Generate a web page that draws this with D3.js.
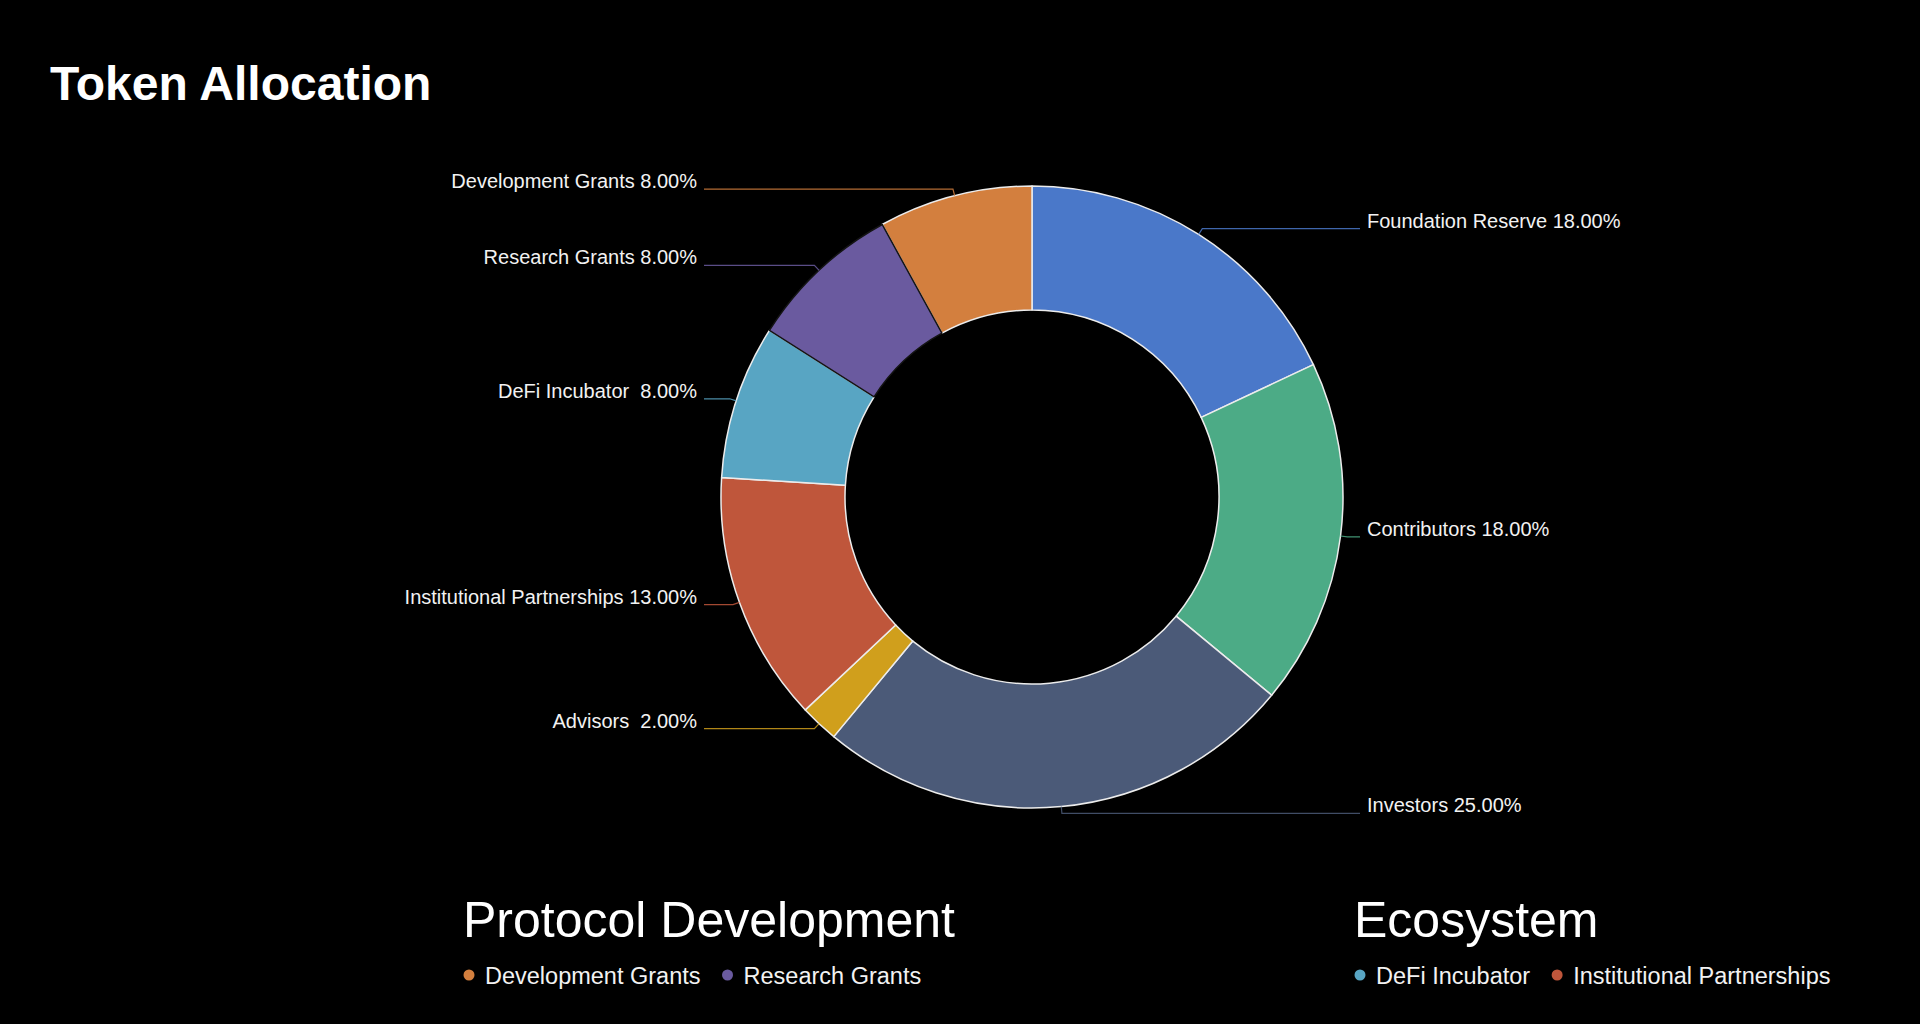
<!DOCTYPE html>
<html>
<head>
<meta charset="utf-8">
<script src="https://cdn.jsdelivr.net/npm/d3@7"></script>
<style>
  html, body { margin: 0; padding: 0; background: #000; }
  svg { display: block; }
  text { font-family: "Liberation Sans", Arial, Helvetica, sans-serif; white-space: pre; }
</style>
</head>
<body>
<svg id="chart" width="1920" height="1024"></svg>
<script>
// ---- data ----
const categories = ["Foundation Reserve", "Contributors", "Investors", "Advisors", "Institutional Partnerships", "DeFi Incubator", "Research Grants", "Development Grants"];
const labelNames = ["Foundation Reserve", "Contributors", "Investors", "Advisors ", "Institutional Partnerships", "DeFi Incubator ", "Research Grants", "Development Grants"];
const values = [18, 18, 25, 2, 13, 8, 8, 8];
const colors = ["#4a78c9", "#4cab86", "#4b5a78", "#d09f1c", "#bf563b", "#58a5c3", "#6a5a9f", "#d37f3e"];
const legendGroups = ["Protocol Development", "Ecosystem"];
const legendMembers = [["Development Grants", "Research Grants"], ["DeFi Incubator", "Institutional Partnerships"]];
const titleText = "Token Allocation";

// ---- layout ----
const W = 1920, H = 1024;
const cx = 1032, cy = 497;
const R = 311, r = 187;
const svg = d3.select("#chart");
svg.append("rect").attr("width", W).attr("height", H).attr("fill", "#000");

svg.append("text")
  .attr("x", 50).attr("y", 100)
  .attr("fill", "#ffffff")
  .attr("font-size", 48).attr("font-weight", 700)
  .text(titleText);

const data = categories.map((c, i) => ({ name: c, label: labelNames[i], value: values[i], color: colors[i], i }));
const total = d3.sum(values);
const pie = d3.pie().sort(null).value(d => d.value);
const arcs = pie(data);
const arc = d3.arc().innerRadius(r).outerRadius(R);
const g = svg.append("g").attr("transform", `translate(${cx},${cy})`);

const darkStroke = new Set(["Research Grants"]);
const paths = g.selectAll("path.slice").data(arcs).join("path")
  .attr("class", "slice")
  .attr("d", arc)
  .attr("fill", d => d.data.color)
  .attr("stroke", d => darkStroke.has(d.data.name) ? "#141414" : "#ececec")
  .attr("stroke-width", 1.5)
  .attr("stroke-linejoin", "round");
paths.filter(d => darkStroke.has(d.data.name)).raise();

// labels
const fmt = d3.format(".2f");
const lineR = R * 1.022;
const lineEndOff = R + 17;
arcs.forEach(a => {
  const mid = (a.startAngle + a.endAngle) / 2;
  const sx = Math.sin(mid) * R, sy = -Math.cos(mid) * R;
  const bx = Math.sin(mid) * lineR, by = -Math.cos(mid) * lineR;
  const right = Math.sin(mid) >= 0;
  const ex = right ? lineEndOff : -lineEndOff;
  g.append("polyline")
    .attr("points", [[sx, sy], [bx, by], [ex, by]].map(p => p.join(",")).join(" "))
    .attr("fill", "none")
    .attr("stroke", a.data.color)
    .attr("stroke-opacity", 0.85)
    .attr("stroke-width", 1.2);
  g.append("text")
    .attr("x", right ? ex + 7 : ex - 7)
    .attr("y", by - 1)
    .attr("text-anchor", right ? "start" : "end")
    .attr("fill", "#f2f2f2")
    .attr("font-size", 20)
    .text(`${a.data.label} ${fmt(a.data.value / total * 100)}%`);
});

// legends
const legendX = [463, 1354];
const colorOf = name => colors[categories.indexOf(name)];
legendGroups.forEach((grp, gi) => {
  const lg = svg.append("g").attr("transform", `translate(${legendX[gi]},0)`);
  lg.append("text")
    .attr("x", 0).attr("y", 937)
    .attr("fill", "#ffffff")
    .attr("font-size", 50)
    .text(grp);
  let x = 0;
  legendMembers[gi].forEach(m => {
    lg.append("circle").attr("cx", x + 6).attr("cy", 975).attr("r", 5.5).attr("fill", colorOf(m));
    const t = lg.append("text")
      .attr("x", x + 22).attr("y", 983.5)
      .attr("fill", "#f2f2f2")
      .attr("font-size", 23.5)
      .text(m);
    x = x + 22 + t.node().getComputedTextLength() + 21;
  });
});
</script>
</body>
</html>
